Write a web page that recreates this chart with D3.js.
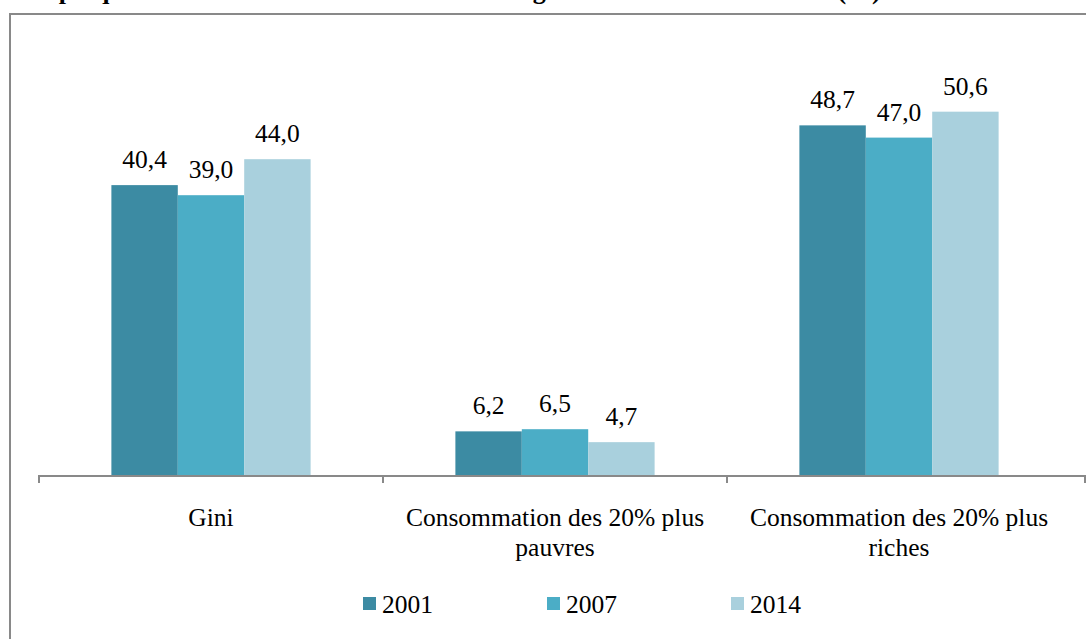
<!DOCTYPE html>
<html>
<head>
<meta charset="utf-8">
<style>
  body { margin: 0; background: #fff; }
  svg#chart { display: block; }
</style>
</head>
<body>
<svg id="chart" width="1086" height="639"></svg>
<script src="https://cdn.jsdelivr.net/npm/d3@7/dist/d3.min.js"></script>
<script>
var categories = ["Gini", "Consommation des 20% plus pauvres", "Consommation des 20% plus riches"];
var categoryLines = [["Gini"], ["Consommation des 20% plus", "pauvres"], ["Consommation des 20% plus", "riches"]];
var years = ["2001", "2007", "2014"];
var values2001 = [40.4, 6.2, 48.7];
var values2007 = [39.0, 6.5, 47.0];
var values2014 = [44.0, 4.7, 50.6];
var colors = ["#3c8ba3", "#4badc6", "#a9d0dd"];
var title = "Graphique 10 : Evolution des indicateurs d'inégalités de la consommation (%)";

var series = [values2001, values2007, values2014];
var serif = "'Liberation Serif', 'Times New Roman', Times, 'DejaVu Serif', serif";

var svg = d3.select("#chart");

// outer frame (runs off the right and bottom edges)
svg.append("rect")
  .attr("x", 10).attr("y", 14)
  .attr("width", 1200).attr("height", 800)
  .attr("fill", "none")
  .attr("stroke", "#898989")
  .attr("stroke-width", 2);

// title, mostly cut off above the top
svg.append("text")
  .attr("x", 14).attr("y", -1)
  .attr("font-family", serif)
  .attr("font-size", "26px")
  .attr("font-weight", "bold")
  .text(title);

var x = d3.scaleBand()
  .domain(categories)
  .range([39, 1071]);

var xInner = d3.scaleBand()
  .domain(years)
  .range([0, x.bandwidth()])
  .paddingInner(0)
  .paddingOuter(1.09);

var y = d3.scaleLinear()
  .domain([0, 60])
  .range([476, 44]);

var axisEnd = 1085;

// bars
var groups = svg.append("g").selectAll("g")
  .data(years)
  .enter().append("g")
  .attr("fill", function (d, i) { return colors[i]; });

groups.selectAll("rect")
  .data(function (d, i) {
    return categories.map(function (c, j) { return { cat: c, year: d, v: series[i][j] }; });
  })
  .enter().append("rect")
  .attr("x", function (d) { return x(d.cat) + xInner(d.year); })
  .attr("y", function (d) { return y(d.v); })
  .attr("width", xInner.bandwidth())
  .attr("height", function (d) { return y(0) - y(d.v); });

// value labels
groups.selectAll("text")
  .data(function (d, i) {
    return categories.map(function (c, j) { return { cat: c, year: d, v: series[i][j] }; });
  })
  .enter().append("text")
  .attr("x", function (d) { return x(d.cat) + xInner(d.year) + xInner.bandwidth() / 2; })
  .attr("y", function (d) { return y(d.v) - 17; })
  .attr("text-anchor", "middle")
  .attr("font-family", serif)
  .attr("font-size", "25.5px")
  .attr("fill", "#000")
  .text(function (d) { return d3.format(".1f")(d.v).replace(".", ","); });

// x axis line
var axis = svg.append("g")
  .attr("transform", "translate(0," + y(0) + ")");

axis.append("line")
  .attr("x1", x.range()[0]).attr("x2", axisEnd)
  .attr("y1", 0).attr("y2", 0)
  .attr("stroke", "#898989")
  .attr("stroke-width", 2);

// tick marks at category boundaries
axis.selectAll("line.sep")
  .data(categories.map(function (c) { return x(c); }).concat([axisEnd]))
  .enter().append("line")
  .attr("class", "sep")
  .attr("x1", function (d) { return d; })
  .attr("x2", function (d) { return d; })
  .attr("y1", -1).attr("y2", 7)
  .attr("stroke", "#898989")
  .attr("stroke-width", 2);

// category labels
var labels = svg.append("g").selectAll("text")
  .data(categories)
  .enter().append("text")
  .attr("text-anchor", "middle")
  .attr("font-family", serif)
  .attr("font-size", "25.5px")
  .attr("fill", "#000")
  .attr("y", 526);

labels.selectAll("tspan")
  .data(function (d, i) { return categoryLines[i]; })
  .enter().append("tspan")
  .attr("x", function () { var c = d3.select(this.parentNode).datum(); return x(c) + x.bandwidth() / 2; })
  .attr("dy", function (d, i) { return i ? 30 : 0; })
  .text(function (d) { return d; });

// legend
var legend = svg.append("g").selectAll("g")
  .data(years)
  .enter().append("g")
  .attr("transform", function (d, i) { return "translate(" + (363 + i * 184) + ",597)"; });

legend.append("rect")
  .attr("width", 13).attr("height", 13)
  .attr("fill", function (d, i) { return colors[i]; });

legend.append("text")
  .attr("x", 19).attr("y", 16)
  .attr("font-family", serif)
  .attr("font-size", "25.5px")
  .attr("fill", "#000")
  .text(function (d) { return d; });
</script>
</body>
</html>
